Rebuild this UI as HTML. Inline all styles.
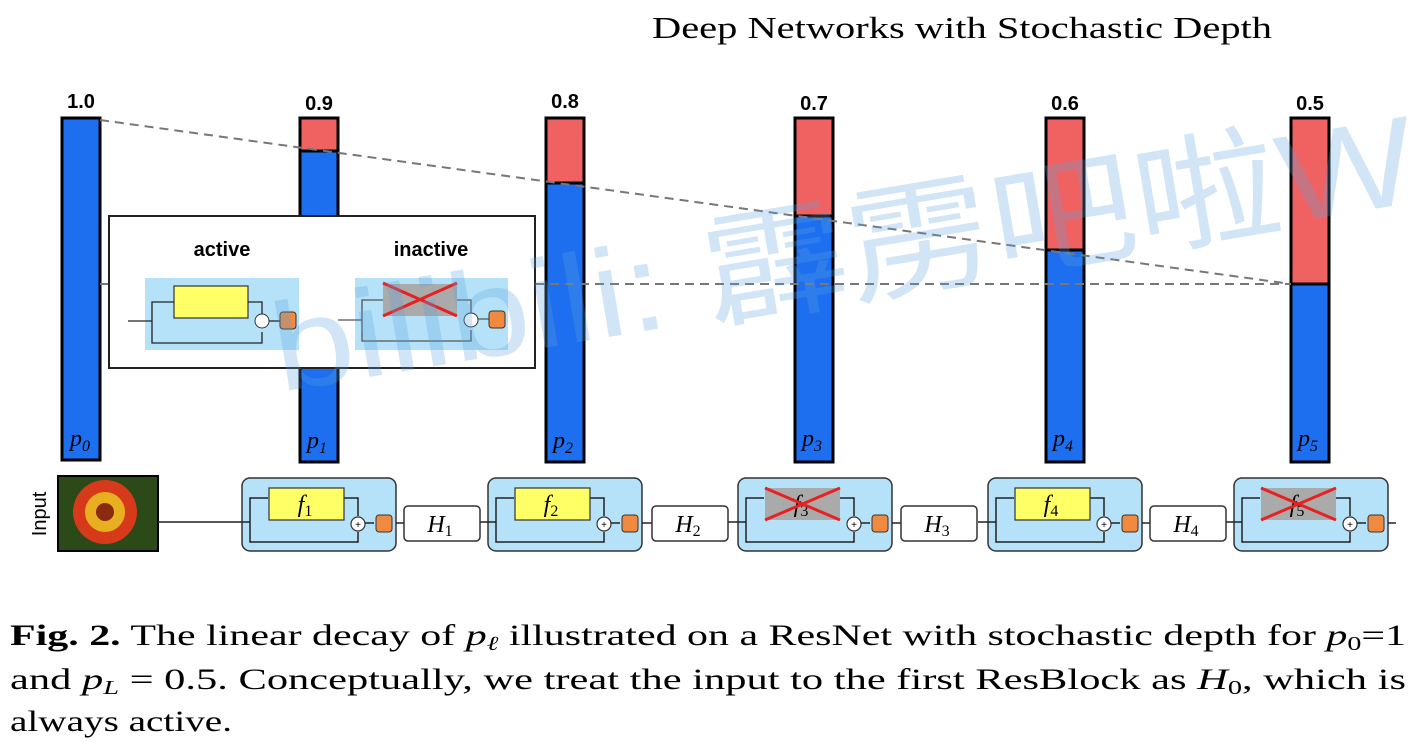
<!DOCTYPE html>
<html><head><meta charset="utf-8"><style>
body{margin:0;background:#fff;}
svg{display:block;}
</style></head><body>
<svg width="1417" height="742" viewBox="0 0 1417 742" xmlns="http://www.w3.org/2000/svg">
<defs>
<g id="blk">
  <rect x="0" y="0" width="154" height="73" rx="8" fill="#b5e2f8" stroke="#333" stroke-width="1.5"/>
  <path d="M-10,44 H8 M8,44 V20 H26 M8,44 V64 H116 V54 M102,20 H116 V38 M123,45 H132" fill="none" stroke="#222" stroke-width="1.5"/>
  <circle cx="116" cy="46" r="7" fill="#fff" stroke="#333" stroke-width="1.2"/>
  <text x="116" y="50" font-size="10" text-anchor="middle" font-family="Liberation Sans">+</text>
  <rect x="134" y="37" width="16" height="17" rx="3" fill="#f08a40" stroke="#333" stroke-width="1"/>
</g>
</defs>
<text x="652" y="38" font-family="Liberation Serif, serif" font-size="31" textLength="620" lengthAdjust="spacingAndGlyphs">Deep Networks with Stochastic Depth</text>
<g stroke="#000" stroke-width="3" font-family="Liberation Sans, sans-serif">
<rect x="62" y="118" width="38" height="342" fill="#1e6ff0"/>
<rect x="300" y="118" width="38" height="344" fill="#1e6ff0"/><rect x="300" y="118" width="38" height="33" fill="#f06262"/>
<rect x="546" y="118" width="38" height="344" fill="#1e6ff0"/><rect x="546" y="118" width="38" height="65" fill="#f06262"/>
<rect x="795" y="118" width="38" height="344" fill="#1e6ff0"/><rect x="795" y="118" width="38" height="98" fill="#f06262"/>
<rect x="1046" y="118" width="38" height="344" fill="#1e6ff0"/><rect x="1046" y="118" width="38" height="132" fill="#f06262"/>
<rect x="1291" y="118" width="38" height="344" fill="#1e6ff0"/><rect x="1291" y="118" width="38" height="166" fill="#f06262"/>
</g>
<g font-family="Liberation Sans, sans-serif" font-weight="bold" font-size="20" text-anchor="middle">
<text x="81" y="108">1.0</text><text x="319" y="110">0.9</text><text x="565" y="108">0.8</text><text x="814" y="110">0.7</text><text x="1065" y="110">0.6</text><text x="1310" y="110">0.5</text>
</g>
<g font-family="Liberation Serif, serif" font-style="italic" font-size="24" fill="#000">
<text x="70" y="446">p<tspan font-size="16" dy="5">0</tspan></text>
<text x="307" y="448">p<tspan font-size="16" dy="5">1</tspan></text>
<text x="553" y="448">p<tspan font-size="16" dy="5">2</tspan></text>
<text x="802" y="446">p<tspan font-size="16" dy="5">3</tspan></text>
<text x="1053" y="446">p<tspan font-size="16" dy="5">4</tspan></text>
<text x="1298" y="446">p<tspan font-size="16" dy="5">5</tspan></text>
</g>
<g stroke="#777" stroke-width="2" stroke-dasharray="9,6" fill="none">
<line x1="100" y1="120" x2="1291" y2="284"/>
<line x1="100" y1="284" x2="1291" y2="284"/>
</g>
<rect x="109" y="216" width="426" height="152" fill="#fff" stroke="#222" stroke-width="2"/>
<g font-family="Liberation Sans, sans-serif" font-weight="bold" font-size="20" text-anchor="middle">
<text x="222" y="256">active</text><text x="431" y="256">inactive</text></g>
<rect x="145" y="278" width="154" height="72" fill="#b5e2f8"/>
<rect x="174" y="286" width="74" height="32" fill="#ffff66" stroke="#333" stroke-width="1.2"/>
<path d="M128,321 H152 M152,321 V302 H174 M152,321 V343 H262 V332 M248,302 H262 V314 M268,321 H280" fill="none" stroke="#222" stroke-width="1.3"/>
<circle cx="262" cy="321" r="7" fill="#fff" stroke="#333"/>
<rect x="280" y="312" width="16" height="17" rx="3" fill="#f08a40" stroke="#333"/>
<rect x="355" y="278" width="153" height="72" fill="#b5e2f8"/>
<rect x="383" y="284" width="74" height="32" fill="#aaa"/>
<path d="M338,320 H362 M362,320 V300 H383 M362,320 V341 H471 V330 M457,300 H471 V314 M477,319 H489" fill="none" stroke="#555" stroke-width="1.3"/>
<path d="M383,283 L457,316 M383,316 L457,283" stroke="#e52222" stroke-width="3"/>
<circle cx="471" cy="320" r="7" fill="#fff" stroke="#333"/>
<rect x="489" y="311" width="16" height="17" rx="3" fill="#f08a40" stroke="#333"/>
<text transform="translate(46,514) rotate(-90)" font-family="Liberation Sans, sans-serif" font-size="20" text-anchor="middle">Input</text>
<rect x="58" y="476" width="100" height="75" fill="#2c4a18" stroke="#000" stroke-width="2"/>
<circle cx="105" cy="512" r="32" fill="#d63a1a"/>
<circle cx="105" cy="512" r="20" fill="#e8b020"/>
<circle cx="105" cy="512" r="9" fill="#8a2a10"/>
<line x1="158" y1="522" x2="232" y2="522" stroke="#222" stroke-width="1.5"/>
<use href="#blk" x="242" y="478"/>
<use href="#blk" x="488" y="478"/>
<use href="#blk" x="738" y="478"/>
<use href="#blk" x="988" y="478"/>
<use href="#blk" x="1234" y="478"/>
<g stroke="#333" stroke-width="1.2">
<rect x="269" y="488" width="75" height="32" fill="#ffff66"/>
<rect x="515" y="488" width="75" height="32" fill="#ffff66"/>
<rect x="765" y="488" width="75" height="32" fill="#aaa" stroke="none"/>
<rect x="1015" y="488" width="75" height="32" fill="#ffff66"/>
<rect x="1261" y="488" width="75" height="32" fill="#aaa" stroke="none"/>
</g>
<g font-family="Liberation Serif, serif" font-style="italic" font-size="24" text-anchor="middle">
<text x="305" y="512">f<tspan font-style="normal" font-size="16" dy="4">1</tspan></text>
<text x="551" y="512">f<tspan font-style="normal" font-size="16" dy="4">2</tspan></text>
<text x="801" y="512">f<tspan font-style="normal" font-size="16" dy="4">3</tspan></text>
<text x="1051" y="512">f<tspan font-style="normal" font-size="16" dy="4">4</tspan></text>
<text x="1297" y="512">f<tspan font-style="normal" font-size="16" dy="4">5</tspan></text>
</g>
<path d="M765,488 L840,520 M765,520 L840,488 M1261,488 L1336,520 M1261,520 L1336,488" stroke="#e52222" stroke-width="3"/>
<g stroke="#222" stroke-width="1.5"><line x1="396" y1="523" x2="404" y2="523"/><line x1="642" y1="523" x2="652" y2="523"/><line x1="892" y1="523" x2="901" y2="523"/><line x1="1142" y1="523" x2="1150" y2="523"/><line x1="1388" y1="523" x2="1396" y2="523"/></g>
<g fill="#fff" stroke="#333" stroke-width="1.5">
<rect x="404" y="506" width="76" height="35" rx="4"/><rect x="652" y="506" width="76" height="35" rx="4"/><rect x="901" y="506" width="76" height="35" rx="4"/><rect x="1150" y="506" width="76" height="35" rx="4"/>
</g>
<g font-family="Liberation Serif, serif" font-style="italic" font-size="24" text-anchor="middle">
<text x="440" y="532">H<tspan font-style="normal" font-size="16" dy="4">1</tspan></text>
<text x="688" y="532">H<tspan font-style="normal" font-size="16" dy="4">2</tspan></text>
<text x="937" y="532">H<tspan font-style="normal" font-size="16" dy="4">3</tspan></text>
<text x="1186" y="532">H<tspan font-style="normal" font-size="16" dy="4">4</tspan></text>
</g>
<text transform="translate(280,392) rotate(-9.5)" font-family="Liberation Sans, 'Noto Sans CJK SC', sans-serif" font-size="125" fill="#5aa0e0" fill-opacity="0.28" textLength="1230" lengthAdjust="spacingAndGlyphs">bilibili: 霹雳吧啦Wz</text>
<g font-family="Liberation Serif, serif" font-size="30" fill="#000">
<text x="10" y="645" textLength="1396" lengthAdjust="spacingAndGlyphs"><tspan font-weight="bold">Fig. 2.</tspan> The linear decay of <tspan font-style="italic">p</tspan><tspan font-style="italic" font-size="20" dy="5">ℓ</tspan><tspan dy="-5"> illustrated on a ResNet with stochastic depth for </tspan><tspan font-style="italic">p</tspan><tspan font-size="20" dy="5">0</tspan><tspan dy="-5">=1</tspan></text>
<text x="10" y="689" textLength="1396" lengthAdjust="spacingAndGlyphs">and <tspan font-style="italic">p</tspan><tspan font-style="italic" font-size="20" dy="5">L</tspan><tspan dy="-5"> = 0.5. Conceptually, we treat the input to the first ResBlock as </tspan><tspan font-style="italic">H</tspan><tspan font-size="20" dy="5">0</tspan><tspan dy="-5">, which is</tspan></text>
<text x="10" y="731" textLength="222" lengthAdjust="spacingAndGlyphs">always active.</text>
</g>
</svg>
</body></html>
